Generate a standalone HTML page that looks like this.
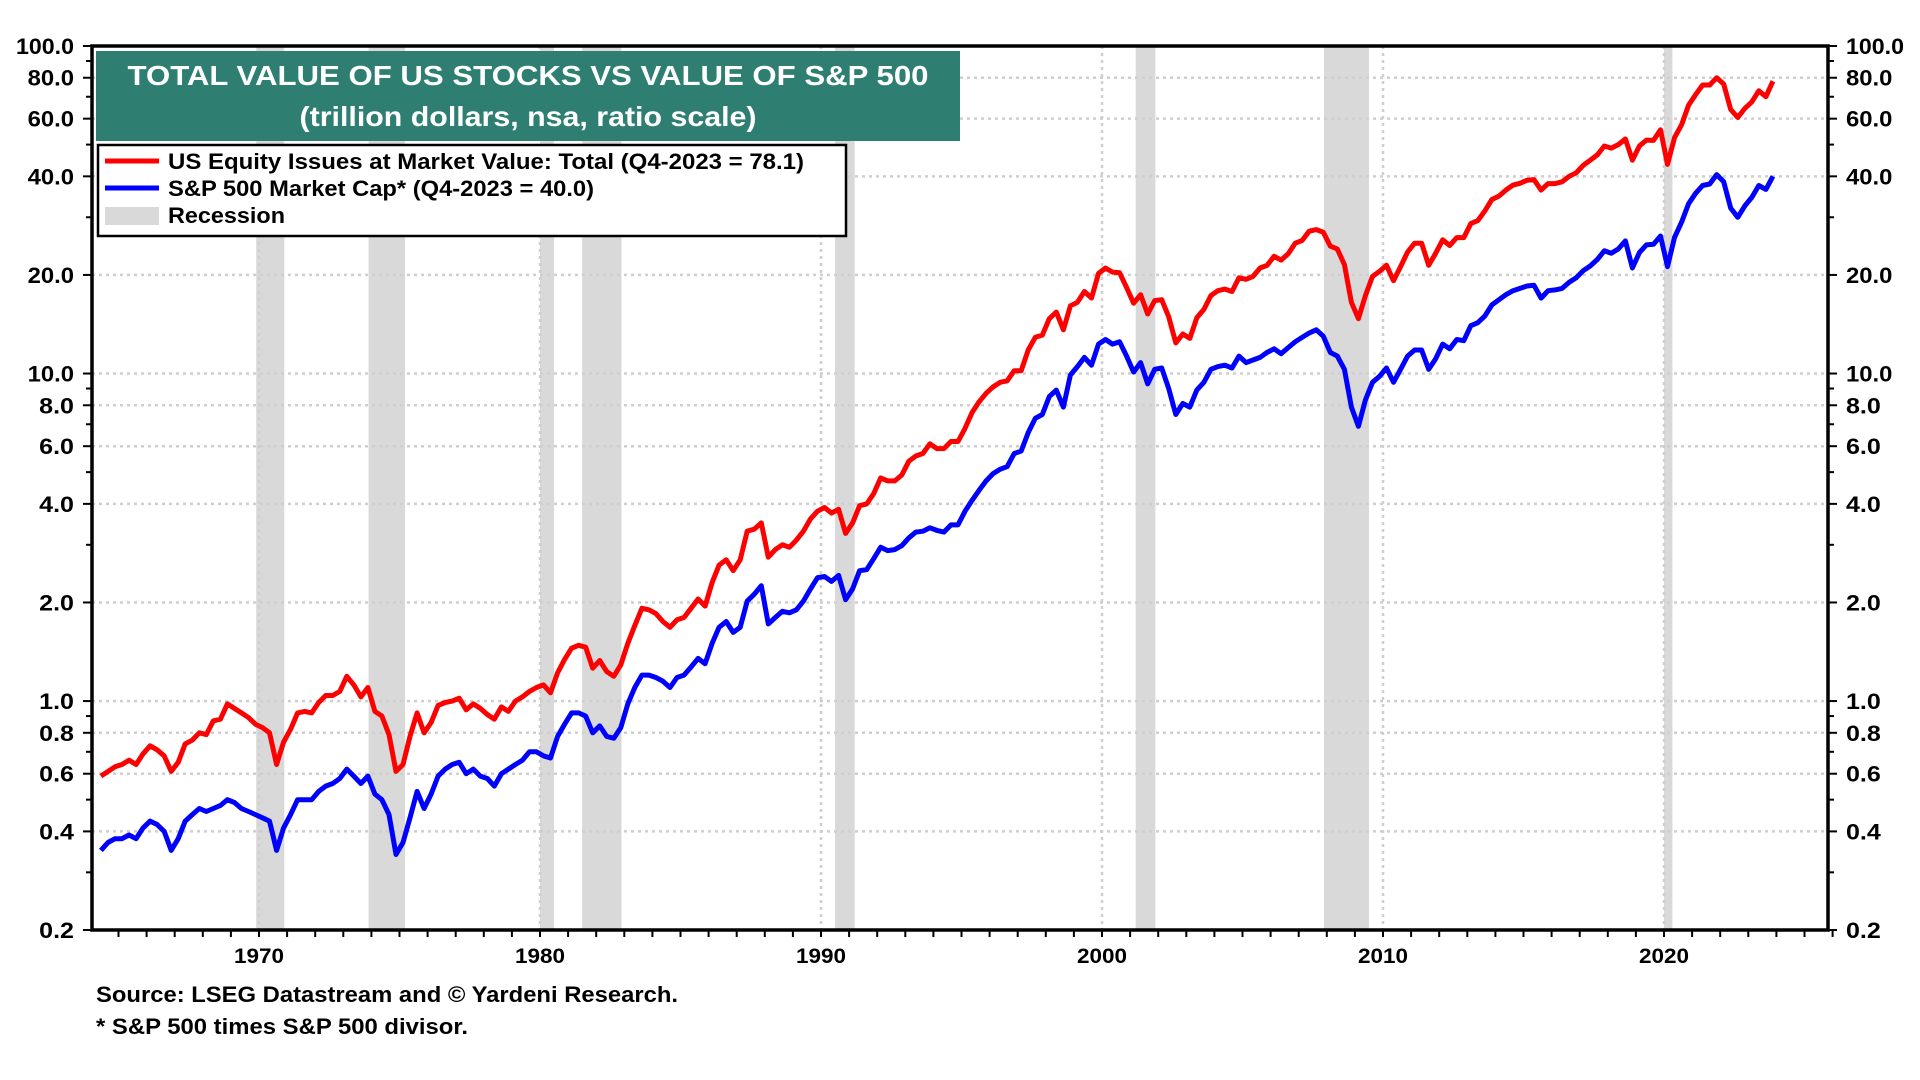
<!DOCTYPE html>
<html><head><meta charset="utf-8"><style>
html,body{margin:0;padding:0;background:#fff;width:1920px;height:1080px;overflow:hidden}
svg{display:block;font-family:"Liberation Sans",Arial,sans-serif;font-weight:bold}
</style></head><body>
<svg id="chart" width="1920" height="1080" viewBox="0 0 1920 1080" xmlns="http://www.w3.org/2000/svg">
<g id="bands"></g>
<g id="grid"></g>
<g id="series"></g>
<g id="axes"></g>
<g>
<rect x="96" y="51" width="864" height="90" fill="#2e7f72"/>
<text x="528" y="85" text-anchor="middle" fill="#fff" font-size="28" textLength="801" lengthAdjust="spacingAndGlyphs">TOTAL VALUE OF US STOCKS VS VALUE OF S&amp;P 500</text>
<text x="528" y="126" text-anchor="middle" fill="#fff" font-size="28" textLength="457" lengthAdjust="spacingAndGlyphs">(trillion dollars, nsa, ratio scale)</text>
</g>
<g>
<rect x="98" y="145" width="748" height="91" fill="#fff" stroke="#000" stroke-width="2.5"/>
<g>
<line x1="105" y1="161" x2="159" y2="161" stroke="#ff0000" stroke-width="5"/>
<text x="168" y="169" font-size="22" textLength="636" lengthAdjust="spacingAndGlyphs">US Equity Issues at Market Value: Total (Q4-2023 = 78.1)</text></g>
<g>
<line x1="105" y1="188" x2="159" y2="188" stroke="#0000ff" stroke-width="5"/>
<text x="168" y="196" font-size="22" textLength="426" lengthAdjust="spacingAndGlyphs">S&amp;P 500 Market Cap* (Q4-2023 = 40.0)</text></g>
<g>
<rect x="105" y="207" width="54" height="18" fill="#d9d9d9"/>
<text x="168" y="223" font-size="22" textLength="117" lengthAdjust="spacingAndGlyphs">Recession</text></g>
</g>
<text x="96" y="1002" font-size="22" textLength="582" lengthAdjust="spacingAndGlyphs">Source: LSEG Datastream and © Yardeni Research.</text>
<text x="96" y="1034" font-size="22" textLength="372" lengthAdjust="spacingAndGlyphs">* S&amp;P 500 times S&amp;P 500 divisor.</text>
</svg>
<script>
const startYear = 1964.375;
const totalEquity = [
0.59,0.61,0.63,0.64, 0.66,0.64,0.69,0.73, 0.71,0.68,0.61,0.65, 0.74,0.76,0.80,0.79,
0.87,0.88,0.98,0.95, 0.92,0.89,0.85,0.83, 0.80,0.64,0.75,0.82, 0.92,0.93,0.92,0.99,
1.04,1.04,1.07,1.19, 1.12,1.03,1.10,0.93, 0.90,0.79,0.61,0.64, 0.78,0.92,0.80,0.86,
0.97,0.99,1.00,1.02, 0.94,0.98,0.95,0.91, 0.88,0.96,0.93,1.00, 1.03,1.07,1.10,1.12,
1.06,1.22,1.34,1.45, 1.48,1.46,1.26,1.33, 1.23,1.19,1.29,1.50, 1.70,1.92,1.90,1.85,
1.75,1.68,1.77,1.80, 1.92,2.05,1.95,2.30, 2.60,2.70,2.50,2.70, 3.30,3.35,3.50,2.75,
2.90,3.00,2.95,3.10, 3.30,3.60,3.80,3.90, 3.75,3.85,3.25,3.50, 3.95,4.00,4.30,4.80,
4.70,4.70,4.90,5.40, 5.60,5.70,6.10,5.90, 5.90,6.20,6.20,6.80, 7.60,8.20,8.70,9.10,
9.40,9.50,10.2,10.2, 11.8,12.9,13.1,14.7, 15.4,13.6,16.1,16.5, 17.8,17.0,20.2,21.0,
20.4,20.3,18.3,16.4, 17.4,15.2,16.7,16.8, 14.9,12.4,13.2,12.8, 14.8,15.7,17.3,17.9,
18.1,17.8,19.6,19.4, 19.8,21.0,21.4,22.8, 22.2,23.2,25.0,25.5, 27.2,27.5,27.0,24.5,
24.0,21.5,16.5,14.7, 17.3,19.8,20.5,21.4, 19.2,21.2,23.5,25.0, 25.0,21.4,23.3,25.6,
24.6,26.0,26.0,28.7, 29.3,31.4,34.0,34.8, 36.3,37.6,38.1,38.9, 39.1,36.3,38.0,38.0,
38.5,40.0,41.0,43.2, 44.8,46.5,49.5,48.8, 50.0,52.0,44.8,49.5, 51.6,51.5,55.5,43.5,
52.5,57.5,66,71, 76,76,80,76.5, 64,60.5,64.5,67.5, 73,70,78.1];
const sp500Cap = [
0.35,0.37,0.38,0.38, 0.39,0.38,0.41,0.43, 0.42,0.40,0.35,0.38, 0.43,0.45,0.47,0.46,
0.47,0.48,0.50,0.49, 0.47,0.46,0.45,0.44, 0.43,0.35,0.41,0.45, 0.50,0.50,0.50,0.53,
0.55,0.56,0.58,0.62, 0.59,0.56,0.59,0.52, 0.50,0.45,0.34,0.37, 0.44,0.53,0.47,0.52,
0.59,0.62,0.64,0.65, 0.60,0.62,0.59,0.58, 0.55,0.60,0.62,0.64, 0.66,0.70,0.70,0.68,
0.67,0.78,0.85,0.92, 0.92,0.90,0.80,0.84, 0.78,0.77,0.83,0.98, 1.10,1.20,1.20,1.18,
1.15,1.10,1.18,1.20, 1.27,1.35,1.30,1.50, 1.68,1.75,1.62,1.68, 2.02,2.12,2.25,1.72,
1.80,1.88,1.86,1.90, 2.02,2.20,2.38,2.40, 2.32,2.42,2.04,2.20, 2.50,2.52,2.72,2.95,
2.88,2.90,2.98,3.15, 3.28,3.30,3.38,3.32, 3.28,3.45,3.45,3.80, 4.10,4.40,4.70,4.95,
5.10,5.20,5.70,5.80, 6.60,7.30,7.50,8.50, 8.90,7.90,9.90,10.5, 11.2,10.6,12.3,12.7,
12.3,12.5,11.3,10.1, 10.8,9.3,10.3,10.4, 9.0,7.5,8.1,7.9, 8.9,9.4,10.3,10.5,
10.6,10.4,11.3,10.8, 11.0,11.2,11.6,11.9, 11.5,12.0,12.5,12.9, 13.3,13.6,13.0,11.6,
11.3,10.3,7.9,6.9, 8.3,9.4,9.8,10.4, 9.4,10.3,11.3,11.8, 11.8,10.3,11.1,12.3,
11.9,12.7,12.6,14.0, 14.3,15.0,16.2,16.8, 17.4,17.9,18.2,18.5, 18.6,17.0,17.9,18.0,
18.2,19.0,19.6,20.6, 21.3,22.3,23.7,23.3, 24.0,25.4,21.0,23.4, 24.7,24.8,26.3,21.2,
26.0,29.0,33.0,35.5, 37.5,37.9,40.5,38.5, 32.0,30.0,32.5,34.5, 37.5,36.5,40.0];
const recessionStarts = [1969.9,1973.9,1980.0,1981.5,1990.5,2001.2,2007.9,2020.0];
const recessionEnds   = [1970.9,1975.2,1980.5,1982.9,1991.2,2001.9,2009.5,2020.3];
const yTickValues = [100,80,60,40,20,10,8,6,4,2,1,0.8,0.6,0.4,0.2];
const yTickLabels = ["100.0","80.0","60.0","40.0","20.0","10.0","8.0","6.0","4.0","2.0","1.0","0.8","0.6","0.4","0.2"];
const xTickYears = [1970,1980,1990,2000,2010,2020];

const L=92,R=1828,T=46,B=930,NS="http://www.w3.org/2000/svg";
function x(yr){return 259+(yr-1970)*28.1;}
function y(v){return T+(2-Math.log10(v))*(B-T)/Math.log10(500);}
function mk(tag,attrs,parent){const e=document.createElementNS(NS,tag);for(const k in attrs)e.setAttribute(k,attrs[k]);parent.appendChild(e);return e;}
const bands=document.getElementById('bands'),grid=document.getElementById('grid'),series=document.getElementById('series'),axes=document.getElementById('axes');
recessionStarts.forEach((s,i)=>{
  const r=mk('rect',{x:x(s),y:T,width:x(recessionEnds[i])-x(s),height:B-T,fill:'#d9d9d9'},bands);
  
  
});
yTickValues.forEach(v=>{ if(v<100&&v>0.2){
  const g=mk('line',{x1:L,x2:R,y1:y(v),y2:y(v),stroke:'#cfcfcf','stroke-width':2.5,'stroke-dasharray':'3,4'},grid);
  
  
}});
xTickYears.forEach(yr=>{
  const g=mk('line',{x1:x(yr),x2:x(yr),y1:T,y2:B,stroke:'#cfcfcf','stroke-width':2.5,'stroke-dasharray':'3,4'},grid);
  
  
});
function line(data,color,name){
  const d=data.map((v,i)=>(i?'L':'M')+x(startYear+i*0.25).toFixed(1)+','+y(v).toFixed(1)).join('');
  const p=mk('path',{d:d,fill:'none',stroke:color,'stroke-width':5,'stroke-linejoin':'round'},series);
  
  
}
line(totalEquity,'#ff0000','us-equity-line');
line(sp500Cap,'#0000ff','sp500-line');
const fr=mk('rect',{x:L,y:T,width:R-L,height:B-T,fill:'none',stroke:'#000','stroke-width':3.5},axes);


const minors=[0.3,0.5,0.7,0.9,3,5,7,9,30,50,70,90];
minors.concat(yTickValues).forEach(v=>{
  const len=yTickValues.includes(v)?9:6;
  mk('line',{x1:L-len,x2:L,y1:y(v),y2:y(v),stroke:'#000','stroke-width':2},axes);
  mk('line',{x1:R,x2:R+len,y1:y(v),y2:y(v),stroke:'#000','stroke-width':2},axes);
});
yTickValues.forEach((v,i)=>{
  const a=mk('text',{x:74,y:y(v)+8,'text-anchor':'end','font-size':22,textLength:yTickLabels[i].length*11.6,lengthAdjust:'spacingAndGlyphs'},axes);
  a.textContent=yTickLabels[i];
  
  
  const b=mk('text',{x:1846,y:y(v)+8,'font-size':22,textLength:yTickLabels[i].length*11.6,lengthAdjust:'spacingAndGlyphs'},axes);
  b.textContent=yTickLabels[i];
  
  
});
for(let yr=1965;yr<=2026;yr++){
  mk('line',{x1:x(yr),x2:x(yr),y1:B,y2:B+7,stroke:'#000','stroke-width':2},axes);
}
xTickYears.forEach(yr=>{
  const t=mk('text',{x:x(yr),y:963,'text-anchor':'middle','font-size':21,textLength:50,lengthAdjust:'spacingAndGlyphs'},axes);
  t.textContent=yr;
  
  
});
</script>
</body></html>
